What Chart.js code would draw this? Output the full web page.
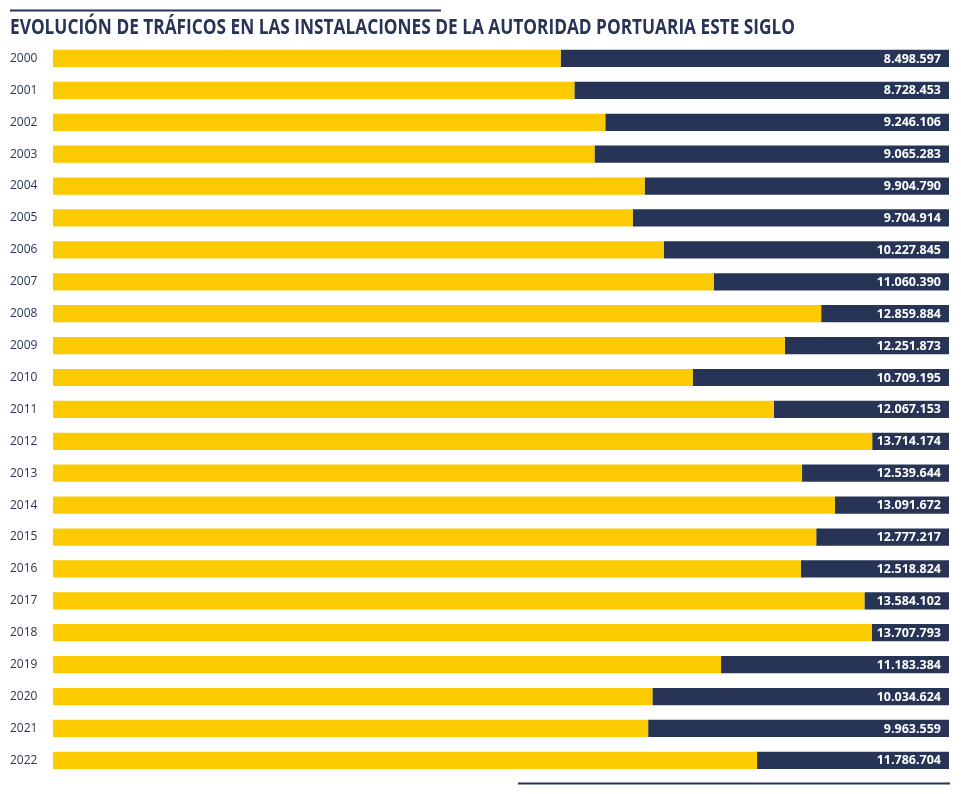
<!DOCTYPE html>
<html>
<head>
<meta charset="utf-8">
<script src="https://cdn.jsdelivr.net/npm/chart.js@4/dist/chart.umd.min.js"></script>
<style>
  body { margin: 0; background: #fff; }
  #wrap { width: 961px; height: 794px; position: relative; }
</style>
</head>
<body>
<div id="wrap"><canvas id="traficos"></canvas></div>
<script>
// years and total traffic (tonnes)
const years = ['2000', '2001', '2002', '2003', '2004', '2005', '2006', '2007', '2008', '2009', '2010', '2011',
  '2012', '2013', '2014', '2015', '2016', '2017', '2018', '2019', '2020', '2021', '2022'];
const traffic = [8498597, 8728453, 9246106, 9065283, 9904790, 9704914, 10227845, 11060390, 12859884, 12251873,
  10709195, 12067153, 13714174, 12539644, 13091672, 12777217, 12518824, 13584102, 13707793, 11183384,
  10034624, 9963559, 11786704];
const scaleMax = 15000000;
const rest = traffic.map(v => scaleMax - v);

const title = 'EVOLUCIÓN DE TRÁFICOS EN LAS INSTALACIONES DE LA AUTORIDAD PORTUARIA ESTE SIGLO';
const navy = '#273456';
const yellow = '#FCCA00';

function fmt(n) {
  return String(n).replace(/\B(?=(\d{3})+(?!\d))/g, '.');
}

// title, rules and value labels
const decor = {
  id: 'decor',
  afterDraw(chart) {
    const ctx = chart.ctx;
    const area = chart.chartArea;
    ctx.save();

    ctx.strokeStyle = navy;
    ctx.lineWidth = 2;
    ctx.beginPath();
    ctx.moveTo(10, 10.5); ctx.lineTo(441, 10.5);
    ctx.moveTo(518, 783.5); ctx.lineTo(950, 783.5);
    ctx.stroke();

    // title squeezed to the width it has in the original
    ctx.font = 'bold 21px "Open Sans"';
    ctx.fillStyle = navy;
    ctx.textBaseline = 'alphabetic';
    const w = ctx.measureText(title).width;
    ctx.save();
    ctx.translate(10, 34);
    ctx.scale(785 / w, 1);
    ctx.fillText(title, 0, 0);
    ctx.restore();

    // value labels inside the navy part
    const meta = chart.getDatasetMeta(1);
    ctx.font = 'bold 12.5px "Open Sans"';
    ctx.fillStyle = '#ffffff';
    ctx.textAlign = 'right';
    ctx.textBaseline = 'middle';
    meta.data.forEach((bar, i) => {
      ctx.fillText(fmt(traffic[i]), area.right - 8, bar.y + 0.5);
    });
    ctx.restore();
  }
};

new Chart(document.getElementById('traficos'), {
  type: 'bar',
  data: {
    labels: years,
    datasets: [
      { data: traffic, backgroundColor: yellow },
      { data: rest, backgroundColor: navy }
    ]
  },
  options: {
    indexAxis: 'y',
    responsive: true,
    maintainAspectRatio: false,
    animation: false,
    barPercentage: 0.54,
    categoryPercentage: 1,
    layout: { padding: { left: 10, right: 12, top: 42.5, bottom: 17.7 } },
    plugins: {
      legend: { display: false },
      tooltip: { enabled: false }
    },
    scales: {
      x: { stacked: true, display: false, min: 0, max: scaleMax },
      y: {
        stacked: true,
        grid: { display: false, drawTicks: false },
        border: { display: false },
        ticks: { color: navy, padding: 0, crossAlign: 'far', font: { family: '"Open Sans"', size: 12 } },
        afterFit(scale) { scale.width = 43; }
      }
    }
  },
  plugins: [decor]
});
</script>
</body>
</html>
